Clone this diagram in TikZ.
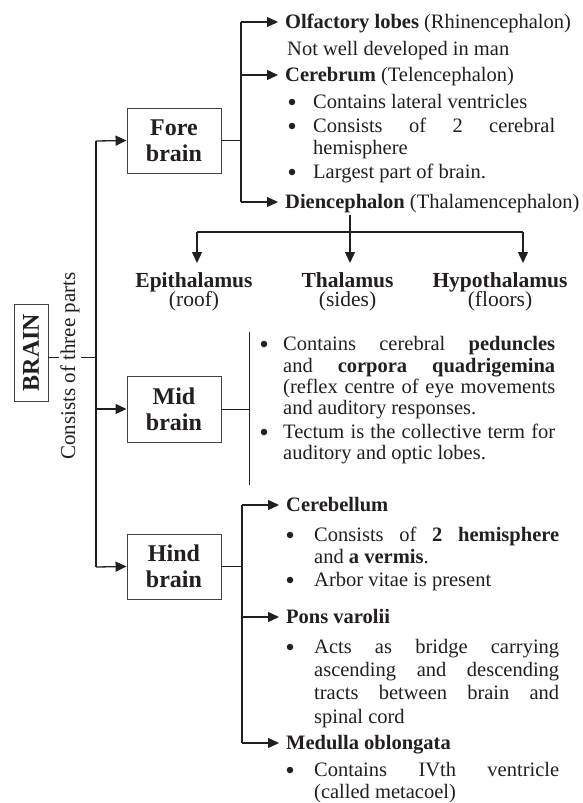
\documentclass[tikz,border=0pt]{standalone}
\usepackage{graphicx}
\usepackage{fontspec}
\setmainfont{Liberation Serif}
\usetikzlibrary{arrows.meta}
\definecolor{ink}{HTML}{231F20}
\newcommand{\bodyf}{\fontsize{20.5}{23}\selectfont}
\newcommand{\headf}{\fontsize{21.5}{19.5}\selectfont\lineskiplimit=-20pt}
\newcommand{\boxf}{\fontsize{24}{26}\selectfont\bfseries}
\newcommand{\vs}{\rule[-0.3em]{0pt}{1.2em}}
\newcommand{\jl}[2]{\makebox[#1][s]{#2}}
\newcommand{\hs}{\rule{0pt}{15pt}}
\begin{document}
\begin{tikzpicture}[x=1pt,y=-1pt,
  part/.style={draw=ink!85, line width=0.9pt, minimum width=94pt, minimum height=65pt, align=center, font=\boxf, text=ink, inner sep=0pt},
  ln/.style={anchor=west, inner sep=0pt, font=\bodyf, text=ink},
  hd/.style={anchor=north, inner sep=0pt, font=\headf, text=ink, align=center},
  dot/.style={circle, fill=ink, inner sep=0pt, minimum size=6.5pt},
  arr/.style={-{Triangle[length=11pt,width=10pt]}, line width=1.3pt, draw=ink},
  thin/.style={line width=0.9pt, draw=ink}]
\useasboundingbox (0,0) rectangle (583,803);
\fill[white] (0,0) rectangle (583,803);

% brain box
\node[draw=ink!85, line width=0.9pt, minimum width=34pt, minimum height=97pt, inner sep=0pt, text=ink] (brain) at (31,352.5) {\rotatebox{90}{\boxf BRAIN}};

% parts
\node[part] (fore) at (174,140.5) {Fore\\brain};
\node[part, minimum height=66pt] (mid) at (174,409) {Mid\\brain};
\node[part] (hind) at (174,566.5) {Hind\\brain};

% trunk
\coordinate (bj) at (96,357);
\coordinate (tf) at (96,141);
\coordinate (tm) at (96,409);
\coordinate (th) at (96,567);
\draw[thin] (brain.east |- bj) -- (bj);
\node[fill=white, inner sep=1pt, text=ink] (cons) at (70,366) {\rotatebox{90}{\fontsize{21}{23}\selectfont Consists of three parts}};
\draw[thin, line width=1.2pt] (tf) -- (th);
\draw[arr] (tf) -- (fore.west);
\draw[arr] (tm) -- (mid.west);
\draw[arr] (th) -- (hind.west);

% ---------- fore brain ----------
\coordinate (fj) at (241,140.5);
\coordinate (f1) at (241,22);
\coordinate (f2) at (241,75);
\coordinate (f3) at (241,202);
\draw[thin] (fore.east) -- (fj);
\draw[thin, line width=1.2pt] (f1) -- (f3);
\node[ln] (olf) at (285,22) {\vs\textbf{Olfactory lobes} (Rhinencephalon)};
\node[ln] (nwd) at (287,49) {\vs Not well developed in man};
\node[ln] (cbr) at (285,75) {\vs\textbf{Cerebrum} (Telencephalon)};
\node[ln] (dien) at (285,202) {\vs\textbf{Diencephalon} (Thalamencephalon)};
\draw[arr, shorten >=7pt] (f1) -- (olf.west);
\draw[arr, shorten >=7pt] (f2) -- (cbr.west);
\draw[arr, shorten >=7pt] (f3) -- (dien.west);
\node[dot] (fb1) at (292,102) {};
\node[dot] (fb2) at (292,126) {};
\node[dot] (fb3) at (292,172) {};
\node[ln] (ft1) at (313,102) {\vs Contains lateral ventricles};
\node[ln] (ft2) at (313,126) {\vs\jl{242pt}{Consists of 2 cerebral}};
\node[ln] (ft3) at (313,148) {\vs hemisphere};
\node[ln] (ft4) at (313,172) {\vs Largest part of brain.};

% diencephalon parts
\coordinate (dj) at (350,232);
\coordinate (dl) at (197,232);
\coordinate (dr) at (523,232);
\draw[thin, line width=1.2pt] (dj |- dien.south) -- (dj);
\draw[thin, line width=1.2pt] (dl) -- (dr);
\node[hd] (epi) at (194,272) {\hs\textbf{Epithalamus}\\(roof)};
\node[hd] (tha) at (347.5,272) {\hs\textbf{Thalamus}\\(sides)};
\node[hd] (hyp) at (500,272) {\hs\textbf{Hypothalamus}\\(floors)};
\draw[arr, shorten >=9pt] (dl) -- (dl |- epi.north);
\draw[arr, shorten >=9pt] (dj) -- (dj |- tha.north);
\draw[arr, shorten >=9pt] (dr) -- (dr |- hyp.north);

% ---------- mid brain ----------
\coordinate (mj) at (249,409);
\coordinate (mt) at (249,332);
\coordinate (mb) at (249,485);
\draw[thin] (mid.east) -- (mj);
\draw[thin] (mt) -- (mb);
\node[dot] (mb1) at (264,344) {};
\node[dot] (mb2) at (264,432) {};
\node[ln] (mt1) at (283,344) {\vs\jl{272pt}{Contains cerebral \textbf{peduncles}}};
\node[ln] (mt2) at (283,366) {\vs\jl{272pt}{and \textbf{corpora quadrigemina}}};
\node[ln] (mt3) at (283,387) {\vs\jl{272pt}{(reflex centre of eye movements}};
\node[ln] (mt4) at (283,408) {\vs and auditory responses.};
\node[ln] (mt5) at (283,432) {\vs\jl{272pt}{Tectum is the collective term for}};
\node[ln] (mt6) at (283,453) {\vs auditory and optic lobes.};

% ---------- hind brain ----------
\coordinate (hj) at (242,566.5);
\coordinate (h1) at (242,505);
\coordinate (h2) at (242,617);
\coordinate (h3) at (242,743);
\draw[thin] (hind.east) -- (hj);
\draw[thin, line width=1.2pt] (h1) -- (h3);
\node[ln] (cbl) at (286,505) {\vs\textbf{Cerebellum}};
\node[ln] (pons) at (286,617) {\vs\textbf{Pons varolii}};
\node[ln] (med) at (286,743) {\vs\textbf{Medulla oblongata}};
\draw[arr, shorten >=7pt] (h1) -- (cbl.west);
\draw[arr, shorten >=7pt] (h2) -- (pons.west);
\draw[arr, shorten >=7pt] (h3) -- (med.west);
\node[dot] (hb1) at (290,535) {};
\node[dot] (hb2) at (290,580) {};
\node[dot] (hb3) at (290,647) {};
\node[dot] (hb4) at (290,770) {};
\node[ln] (ht1) at (314,535) {\vs\jl{245pt}{Consists of \textbf{2 hemisphere}}};
\node[ln] (ht2) at (314,557) {\vs and \textbf{a vermis}.};
\node[ln] (ht3) at (314,580) {\vs Arbor vitae is present};
\node[ln] (ht4) at (314,647) {\vs\jl{245pt}{Acts as bridge carrying}};
\node[ln] (ht5) at (314,670) {\vs\jl{245pt}{ascending and descending}};
\node[ln] (ht6) at (314,693) {\vs\jl{245pt}{tracts between brain and}};
\node[ln] (ht7) at (314,717) {\vs spinal cord};
\node[ln] (ht8) at (314,770) {\vs\jl{245pt}{Contains IVth ventricle}};
\node[ln] (ht9) at (314,792) {\vs (called metacoel)};
\end{tikzpicture}
\end{document}
